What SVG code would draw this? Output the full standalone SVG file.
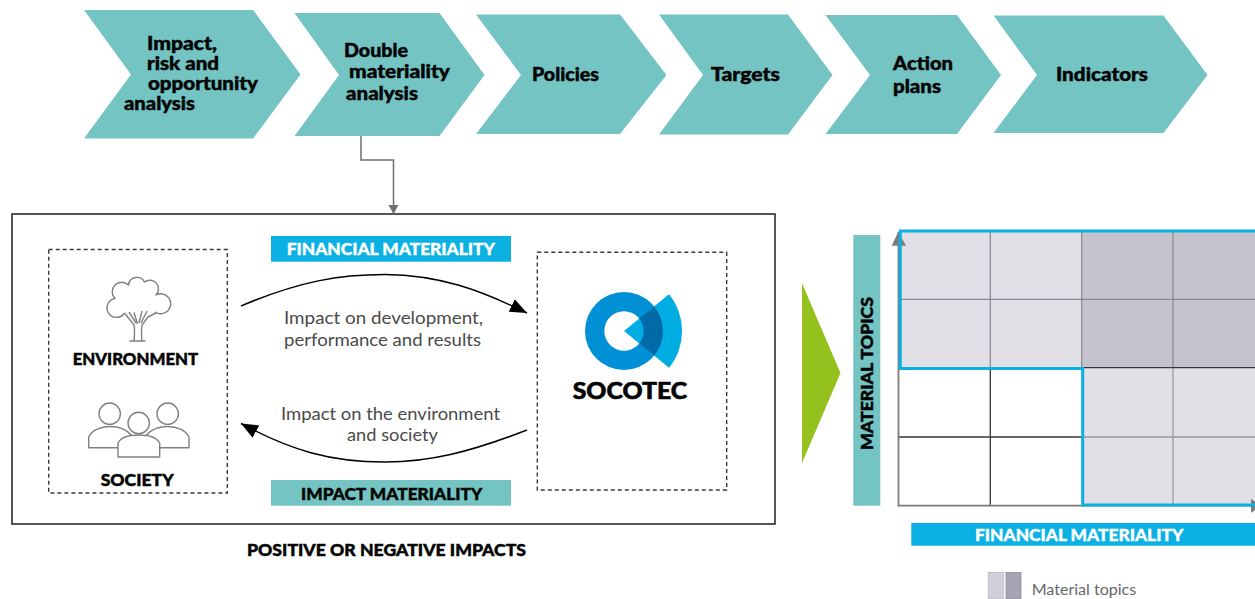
<svg xmlns="http://www.w3.org/2000/svg" width="1255" height="599" viewBox="0 0 1255 599">
<style>
text{font-family:"Lato","Liberation Sans",sans-serif}
.chev{fill:#73c4c3}
.b{font-weight:900;fill:#050505;font-size:18px;stroke:#050505;stroke-width:.45px}
.cap{font-weight:900;fill:#050505;font-size:16.500px;stroke:#050505;stroke-width:.45px}
.w{font-weight:900;fill:#fff;font-size:16.500px;stroke:#fff;stroke-width:.35px}
.t{font-weight:400;fill:#4a4a4a;font-size:18px}
.dash{fill:#fff;stroke:#3a3a3a;stroke-width:1.400;stroke-dasharray:4 3}
.ic{fill:#fff;stroke:#808080;stroke-width:1.400;stroke-linejoin:round}
.lt{fill:#e1e0e6}.dk{fill:#c5c3ce}
.gl{stroke:#8b8a92;stroke-width:1.300;fill:none}
.gd{stroke:#34343f;stroke-width:1.300;fill:none}
</style>
<defs>
<marker id="ah" markerUnits="userSpaceOnUse" markerWidth="20" markerHeight="18" refX="17" refY="8" orient="auto"><path d="M0 1L17 8L0 15Z" fill="#000"/></marker>
<marker id="gh" markerUnits="userSpaceOnUse" markerWidth="12" markerHeight="12" refX="9" refY="5" orient="auto"><path d="M0 0L9 5L0 10Z" fill="#6f6f6f"/></marker>
</defs>
<rect width="1255" height="599" fill="#fff"/>

<g id="step-impact">
<path class="chev" d="M84 10H253L300.500 74.500L253 138.500H84L131 74.500Z"/>
<text class="b" x="147" y="50" textLength="70" lengthAdjust="spacingAndGlyphs">Impact,</text>
<text class="b" x="147" y="70" textLength="72" lengthAdjust="spacingAndGlyphs">risk and</text>
<text class="b" x="148" y="90" textLength="110" lengthAdjust="spacingAndGlyphs">opportunity</text>
<text class="b" x="124" y="110" textLength="71" lengthAdjust="spacingAndGlyphs">analysis</text>
</g>
<g id="step-double">
<path class="chev" d="M294.500 13H439.500L484.500 75L439.500 136H294.500L339 75Z"/>
<text class="b" x="344" y="57" textLength="64" lengthAdjust="spacingAndGlyphs">Double</text>
<text class="b" x="349" y="78" textLength="101" lengthAdjust="spacingAndGlyphs">materiality</text>
<text class="b" x="346" y="100" textLength="72" lengthAdjust="spacingAndGlyphs">analysis</text>
</g>
<g id="step-policies">
<path class="chev" d="M476 14.500H620L666.500 75L620 134H476L521 75Z"/>
<text class="b" x="532" y="81" textLength="67" lengthAdjust="spacingAndGlyphs">Policies</text>
</g>
<g id="step-targets">
<path class="chev" d="M659 14.500H788L832.500 75L788 134.500H659L703 75Z"/>
<text class="b" x="711" y="81" textLength="69" lengthAdjust="spacingAndGlyphs">Targets</text>
</g>
<g id="step-action">
<path class="chev" d="M825.500 15H957L1001 75L957 134H825.500L870 75Z"/>
<text class="b" x="893" y="70" textLength="60" lengthAdjust="spacingAndGlyphs">Action</text>
<text class="b" x="893" y="93" textLength="48" lengthAdjust="spacingAndGlyphs">plans</text>
</g>
<g id="step-indicators">
<path class="chev" d="M993.500 15.500H1163.500L1207.500 75L1163.500 133H993.500L1037 75Z"/>
<text class="b" x="1056" y="81" textLength="92" lengthAdjust="spacingAndGlyphs">Indicators</text>
</g>

<g id="frame"><rect x="12" y="214" width="763" height="310" fill="#fff" stroke="#2b2b2b" stroke-width="1.600"/></g>

<g id="connectors">
<path d="M361 136V160H393.500V214" fill="none" stroke="#6f6f6f" stroke-width="1.500" marker-end="url(#gh)"/>
<path d="M241 306C300 281 340 274.500 385 274.500C440 275 480 290 527 313" fill="none" stroke="#000" stroke-width="1.500" marker-end="url(#ah)"/>
<path d="M527 430C470 452 430 462 385 462C330 462 290 450 241 423.500" fill="none" stroke="#000" stroke-width="1.500" marker-end="url(#ah)"/>
</g>

<g id="external">
<rect class="dash" x="48.700" y="249.500" width="178.600" height="243.500"/>
<g id="tree-icon">
<path class="ic" d="M124.500 313A9.500 9.500 0 1 1 115 298.500A8 8 0 0 1 128.500 285A8.500 8.500 0 0 1 144.500 282A8.700 8.700 0 0 1 156 295A10 10 0 1 1 155 312"/>
<path class="ic" d="M124.500 313L134 325C135 331 134.500 336 134 341M157 312.500L148 317L142 325C141 331 141.500 336 142 341M129.500 341H145.500M129 312L136 323M134 312.500L137.500 324M142 311L139 323M147 311L141 323" fill="none"/>
</g>
<text class="cap" x="72.700" y="365" textLength="125.500" lengthAdjust="spacingAndGlyphs">ENVIRONMENT</text>
<g id="people-icon">
<circle class="ic" cx="109.700" cy="413.700" r="10.700"/>
<circle class="ic" cx="167.700" cy="413.700" r="10.700"/>
<path class="ic" d="M88.700 447.700V437C92 430 101 426.500 110 426.500C118 426.500 126 429 131 435L131 447.700Z"/>
<path class="ic" d="M189 447.700V437C185.700 430 176.700 426.500 167.700 426.500C159.700 426.500 151.700 429 146.700 435L146.700 447.700Z"/>
<circle class="ic" cx="138.700" cy="423" r="10.700"/>
<path class="ic" d="M118 457V443C121.500 436 130 435 138.700 435C147.500 435 156 436 159.700 443V457Z"/>
</g>
<text class="cap" x="100.700" y="486" textLength="73" lengthAdjust="spacingAndGlyphs">SOCIETY</text>
</g>

<g id="financial-label">
<rect x="271" y="236" width="240" height="25.700" fill="#0bb1e3"/>
<text class="w" x="286.700" y="255" textLength="208.300" lengthAdjust="spacingAndGlyphs">FINANCIAL MATERIALITY</text>
</g>
<g id="impact-label">
<rect x="271" y="480" width="240" height="25.700" fill="#73c4c3"/>
<text class="cap" x="301" y="499.700" textLength="181.300" lengthAdjust="spacingAndGlyphs">IMPACT MATERIALITY</text>
</g>
<g id="financial-text">
<text class="t" x="284" y="324" textLength="199" lengthAdjust="spacingAndGlyphs">Impact on development,</text>
<text class="t" x="284" y="346" textLength="197" lengthAdjust="spacingAndGlyphs">performance and results</text>
</g>
<g id="impact-text">
<text class="t" x="281" y="420" textLength="219" lengthAdjust="spacingAndGlyphs">Impact on the environment</text>
<text class="t" x="347" y="441" textLength="91" lengthAdjust="spacingAndGlyphs">and society</text>
</g>

<g id="socotec">
<rect class="dash" x="537.300" y="252.300" width="189.400" height="237.700"/>
<path fill="#0090d6" fill-rule="evenodd" d="M585 331A39 39 0 1 1 663 331A39 39 0 1 1 585 331ZM604.300 331A19.700 19.700 0 1 0 643.700 331A19.700 19.700 0 1 0 604.300 331Z"/>
<path fill="#00ade2" d="M624 331L669 294.300A58 58 0 0 1 669 367.700Z"/>
<path fill="#0069a8" d="M639.300 318.600L654.300 306.500A39 39 0 0 1 654.300 355.500L639.300 343.400A19.700 19.700 0 0 0 639.300 318.600Z"/>
<text x="572.700" y="399" font-size="23" font-weight="900" fill="#050505" stroke="#050505" stroke-width=".6" textLength="114.500" lengthAdjust="spacingAndGlyphs">SOCOTEC</text>
</g>

<text id="caption" class="cap" x="247" y="556" textLength="279" lengthAdjust="spacingAndGlyphs">POSITIVE OR NEGATIVE IMPACTS</text>

<path id="flow-arrow" d="M802 283.300L840.500 373L802 463Z" fill="#95c11f"/>

<g id="matrix-y-label">
<rect x="853.300" y="235" width="27" height="270.700" fill="#73c4c3"/>
<text class="cap" transform="translate(873 450) rotate(-90)" x="0" y="0" textLength="153" lengthAdjust="spacingAndGlyphs">MATERIAL TOPICS</text>
</g>

<g id="matrix">
<rect class="lt" x="899" y="231" width="182.700" height="137"/>
<rect class="dk" x="1081.700" y="231" width="173.300" height="137"/>
<rect class="lt" x="1081.700" y="368" width="173.300" height="137.500"/>
<path class="gl" d="M899 299.300H1255M990.300 231V368M1173 231V368M1081.700 231V368"/>
<path class="gd" d="M1081.700 367.700H1255"/>
<path class="gl" d="M1081.700 437H1255M1173 368V505.700" style="stroke:#9a9aa0"/>
<path class="gd" d="M899 437H1081.700M990.300 368V505.700"/>
<path d="M898.500 232V505.700H1252" fill="none" stroke="#7b7b7b" stroke-width="1.800"/>
<path d="M891.700 245.700L898.300 231.700L906 245.700Z" fill="#7b7b7b"/>
<path d="M1251 499L1262 505.700L1251 512.700Z" fill="#7b7b7b"/>
<path d="M1255 231H900.300V368.500H1082.700V505H1255" fill="none" stroke="#0bb1e3" stroke-width="3"/>
</g>

<g id="matrix-x-label">
<rect x="911.300" y="523" width="343.700" height="22.700" fill="#0bb1e3"/>
<text class="w" x="975" y="541" textLength="208.300" lengthAdjust="spacingAndGlyphs">FINANCIAL MATERIALITY</text>
</g>

<g id="legend">
<rect x="988.300" y="572.500" width="15.400" height="26.500" fill="#d0d0d9" stroke="#b9b9c2" stroke-width="0.800"/>
<rect x="1006" y="572.500" width="15" height="26.500" fill="#a5a4b3" stroke="#8e8d9c" stroke-width="0.800"/>
<text x="1031.700" y="595" font-size="14.500" fill="#66666e" textLength="104.500" lengthAdjust="spacingAndGlyphs">Material topics</text>
</g>
</svg>
